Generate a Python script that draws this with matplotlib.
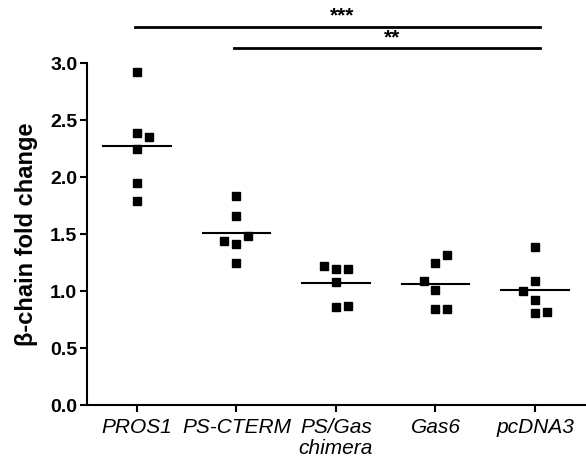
import numpy as np
import matplotlib
matplotlib.use("Agg")
import matplotlib.pyplot as plt

plt.rcParams["font.family"] = ["Liberation Sans", "DejaVu Sans"]

groups = ["PROS1", "PS-CTERM", "PS/Gas\nchimera", "Gas6", "pcDNA3"]
values = [
    [2.92, 2.39, 2.35, 2.25, 1.95, 1.79],
    [1.83, 1.66, 1.41, 1.25, 1.44, 1.48],
    [1.22, 1.19, 1.19, 1.08, 0.86, 0.87],
    [1.25, 1.32, 1.09, 1.01, 0.84, 0.84],
    [1.39, 1.09, 1.00, 0.92, 0.81, 0.82],
]
# horizontal spread of the points inside a column (scatter-dot layout)
x_offset = [
    [0, 0, 1, 0, 0, 0],
    [0, 0, 0, 0, -1, 1],
    [-1, 0, 1, 0, 0, 1],
    [0, 1, -1, 0, 0, 1],
    [0, 0, -1, 0, 0, 1],
]
# significance: (group a, group b, stars)
sig = [(0, 4, "***"), (1, 4, "**")]

fig = plt.figure(figsize=(5.86, 4.58), dpi=100)
ax = fig.add_axes([0.1485, 0.1157, 0.8495, 0.7467])

for i, vals in enumerate(values):
    xs = i + 0.12 * np.array(x_offset[i])
    ax.plot(xs, vals, "s", color="black", markersize=6, linestyle="none", clip_on=False)
    m = np.mean(vals)
    ax.plot([i - 0.34, i + 0.34], [m, m], color="black", linewidth=1.5)

ax.set_xlim(-0.5, 4.5)
ax.set_ylim(0, 3.0)
ticks = np.arange(0, 3.01, 0.5)
ax.set_yticks(ticks)
ax.set_yticklabels(["%.1f" % v for v in ticks], fontweight="bold", fontsize=14)
ax.set_xticks(range(len(groups)))
ax.set_xticklabels(groups, fontstyle="italic", fontsize=15, linespacing=1.15)
ax.set_ylabel("β-chain fold change", fontweight="bold", fontsize=17, labelpad=9)

for s in ["top", "right"]:
    ax.spines[s].set_visible(False)
for s in ["left", "bottom"]:
    ax.spines[s].set_linewidth(1.5)
ax.tick_params(direction="out", length=5, width=1.5, pad=2)
ax.tick_params(axis="x", pad=4)

sig_y = [3.32, 3.13]
for (a, b, stars), y in zip(sig, sig_y):
    ax.plot([a - 0.02, b + 0.05], [y, y], color="black", linewidth=2, clip_on=False)
    ax.text((a + b) / 2 + 0.06, y + 0.01, stars, ha="center", va="bottom",
            fontsize=15, fontweight="bold")

fig.savefig("out.png", dpi=100)
